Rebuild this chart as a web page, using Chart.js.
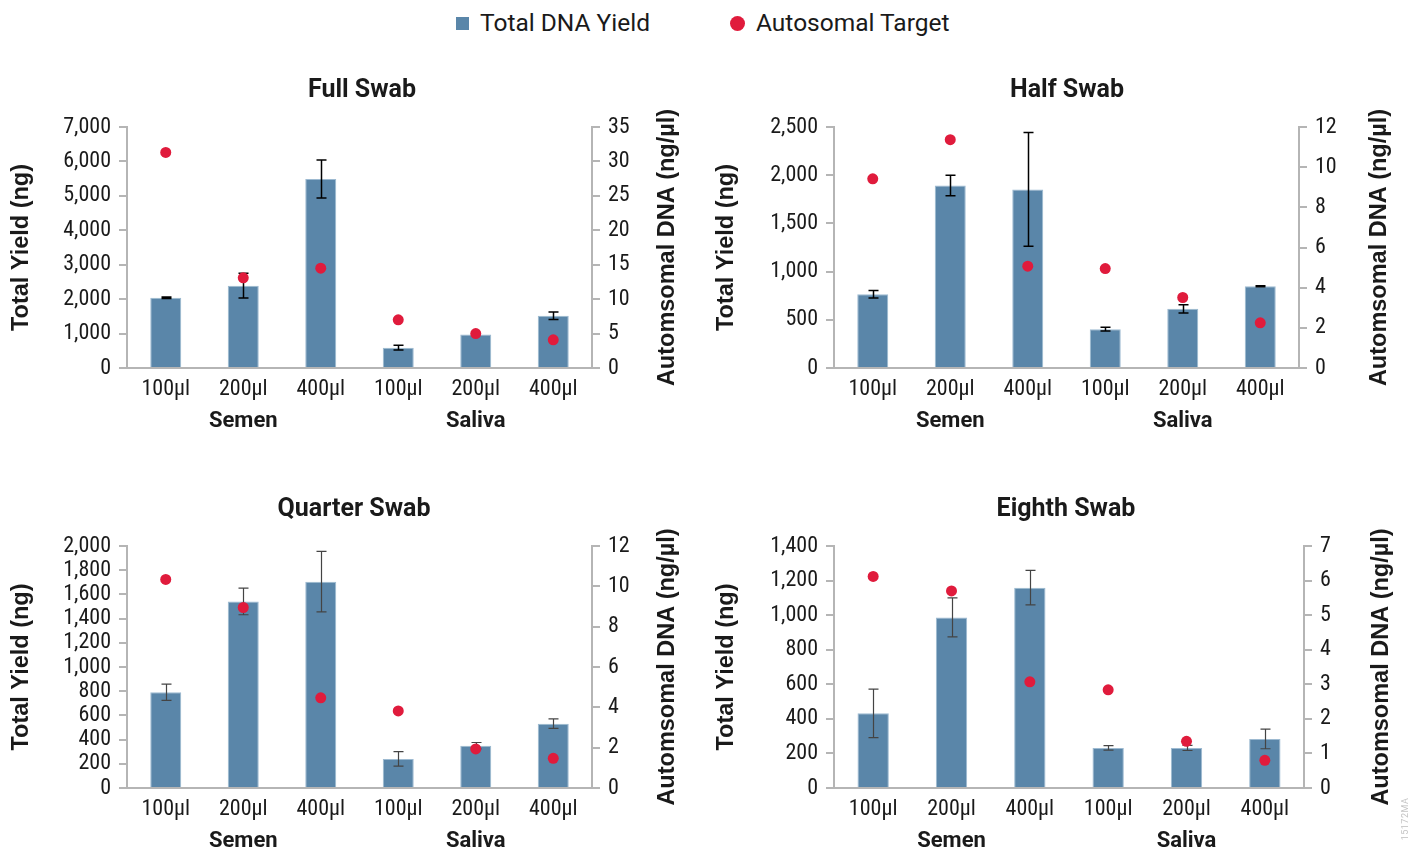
<!DOCTYPE html>
<html>
<head>
<meta charset="utf-8">
<script src="https://cdn.jsdelivr.net/npm/chart.js@4.4.1/dist/chart.umd.min.js"></script>
<style>
  html, body { margin: 0; padding: 0; background: #ffffff; }
  body { width: 1409px; height: 851px; position: relative; overflow: hidden; font-family: Roboto, "Noto Sans", sans-serif; color: #1a1a1a; }
  .panel { position: absolute; }
  .legend-swatch { position: absolute; width: 13px; height: 13px; background: #5a86a9; }
  .legend-dot { position: absolute; width: 15px; height: 15px; border-radius: 50%; background: #e01b3c; }
  .legend-text { position: absolute; top: 11px; font-size: 24.5px; line-height: 24px; white-space: nowrap; color: #1a1a1a; }
  .code { position: absolute; left: 1380px; top: 814px; width: 50px; text-align: center; font-size: 9px; color: #c4c4c4; transform: rotate(-90deg); letter-spacing: 0.5px; }
</style>
</head>
<body>

<div class="legend-swatch" style="left:456px; top:17px;"></div>
<div class="legend-text" style="left:480px;">Total DNA Yield</div>
<div class="legend-dot" style="left:730px; top:16px;"></div>
<div class="legend-text" style="left:756px;">Autosomal Target</div>

<div class="panel" style="left:0px; top:60px;"><canvas id="full" width="704" height="400"></canvas></div>
<div class="panel" style="left:704px; top:60px;"><canvas id="half" width="705" height="400"></canvas></div>
<div class="panel" style="left:0px; top:480px;"><canvas id="quarter" width="704" height="371"></canvas></div>
<div class="panel" style="left:704px; top:480px;"><canvas id="eighth" width="705" height="371"></canvas></div>

<div class="code">15172MA</div>

<script>
// Sample volumes along the x axis, grouped by sample type
const categories = ['100µl', '200µl', '400µl', '100µl', '200µl', '400µl'];
const sampleGroups = ['Semen', 'Saliva'];
const groupCenterIndex = [1, 4];

// Full swab
const fullYield = [2040, 2390, 5490, 590, 970, 1520];
const fullYieldErr = [20, 360, 550, 70, 0, 110];
const fullAutosomal = [31.3, 13.1, 14.5, 7.0, 5.0, 4.1];
const fullYieldTicks = [0, 1000, 2000, 3000, 4000, 5000, 6000, 7000];
const fullAutoTicks = [0, 5, 10, 15, 20, 25, 30, 35];

// Half swab
const halfYield = [765, 1893, 1852, 403, 614, 848];
const halfYieldErr = [40, 107, 590, 20, 43, 5];
const halfAutosomal = [9.42, 11.37, 5.07, 4.95, 3.51, 2.25];
const halfYieldTicks = [0, 500, 1000, 1500, 2000, 2500];
const halfAutoTicks = [0, 2, 4, 6, 8, 10, 12];

// Quarter swab
const quarterYield = [792, 1542, 1705, 240, 350, 532];
const quarterYieldErr = [67, 110, 250, 60, 26, 40];
const quarterAutosomal = [10.34, 8.95, 4.47, 3.82, 1.94, 1.47];
const quarterYieldTicks = [0, 200, 400, 600, 800, 1000, 1200, 1400, 1600, 1800, 2000];
const quarterAutoTicks = [0, 2, 4, 6, 8, 10, 12];

// Eighth swab
const eighthYield = [432, 987, 1159, 232, 232, 284];
const eighthYieldErr = [140, 113, 100, 13, 15, 57];
const eighthAutosomal = [6.12, 5.70, 3.07, 2.84, 1.35, 0.80];
const eighthYieldTicks = [0, 200, 400, 600, 800, 1000, 1200, 1400];
const eighthAutoTicks = [0, 1, 2, 3, 4, 5, 6, 7];

const BAR_FILL = '#5a86a9';
const BAR_EDGE = '#9dbad1';
const DOT_FILL = '#e01b3c';
const AXIS_GREY = '#b5b5b5';
const TEXT = '#1a1a1a';
const TICK_FONT = { family: "'Roboto Condensed', Roboto, sans-serif", size: 22 };

// Vertical error bars drawn right after the bar dataset, before the dots
const errorBars = {
  id: 'errorBars',
  afterDatasetDraw(chart, args, opts) {
    if (args.index !== 0) return;
    const ys = chart.scales.y;
    const values = chart.data.datasets[0].data;
    const ctx = chart.ctx;
    ctx.save();
    ctx.strokeStyle = opts.color;
    ctx.lineWidth = opts.width;
    args.meta.data.forEach((bar, i) => {
      const e = opts.errors[i];
      if (!e) return;
      const x = Math.round(bar.x) + 0.5;
      const yHi = ys.getPixelForValue(values[i] + e);
      const yLo = ys.getPixelForValue(values[i] - e);
      ctx.beginPath();
      ctx.moveTo(x, yHi); ctx.lineTo(x, yLo);
      ctx.moveTo(x - 5, yHi); ctx.lineTo(x + 5, yHi);
      ctx.moveTo(x - 5, yLo); ctx.lineTo(x + 5, yLo);
      ctx.stroke();
    });
    ctx.restore();
  }
};

// Panel title, rotated axis titles and the sample-type labels under the volumes
const panelText = {
  id: 'panelText',
  afterDraw(chart, args, opts) {
    const { ctx, chartArea: a } = chart;
    const xs = chart.scales.x;
    ctx.save();
    ctx.fillStyle = TEXT;
    ctx.textAlign = 'center';
    ctx.textBaseline = 'middle';

    ctx.font = 'bold 25px Roboto, sans-serif';
    ctx.fillText(opts.title, opts.titleX, a.top - 36);

    ctx.font = 'bold 22px Roboto, sans-serif';
    sampleGroups.forEach((g, i) => {
      ctx.fillText(g, xs.getPixelForValue(groupCenterIndex[i]), a.bottom + 53);
    });

    ctx.font = 'bold 23.5px "Liberation Sans", Arial, sans-serif';
    [[opts.leftTitle, opts.leftTitleX], [opts.rightTitle, opts.rightTitleX]].forEach(([t, x]) => {
      ctx.save();
      ctx.translate(x, (a.top + a.bottom) / 2);
      ctx.rotate(-Math.PI / 2);
      ctx.fillText(t, 0, 0);
      ctx.restore();
    });
    ctx.restore();
  }
};

function valueAxis(position, tickValues, width) {
  return {
    type: 'linear',
    position: position,
    min: tickValues[0],
    max: tickValues[tickValues.length - 1],
    afterBuildTicks: (scale) => { scale.ticks = tickValues.map(v => ({ value: v })); },
    afterFit: (scale) => { scale.width = width; },
    grid: { drawOnChartArea: false, drawTicks: true, tickLength: 8, color: AXIS_GREY, lineWidth: 2 },
    border: { display: true, color: AXIS_GREY, width: 2 },
    ticks: {
      font: TICK_FONT, color: TEXT, padding: 8, autoSkip: false,
      callback: (v) => Number(v).toLocaleString('en-US')
    }
  };
}

function makePanel(canvasId, p) {
  const canvas = document.getElementById(canvasId);
  const W = canvas.width, H = canvas.height;
  return new Chart(canvas, {
    type: 'bar',
    data: {
      labels: categories,
      datasets: [
        {
          type: 'bar',
          label: 'Total DNA Yield',
          data: p.yieldData,
          yAxisID: 'y',
          backgroundColor: BAR_FILL,
          borderColor: BAR_EDGE,
          borderWidth: 1,
          barPercentage: 0.4,
          categoryPercentage: 1.0,
          order: 2
        },
        {
          type: 'line',
          label: 'Autosomal Target',
          data: p.autoData,
          yAxisID: 'y1',
          showLine: false,
          pointRadius: 5.5,
          pointBackgroundColor: DOT_FILL,
          pointBorderWidth: 0,
          order: 1
        }
      ]
    },
    options: {
      responsive: false,
      animation: false,
      events: [],
      layout: { padding: { top: p.areaTop, left: 0, right: 0, bottom: 0 } },
      scales: {
        x: {
          type: 'category',
          offset: true,
          afterFit: (scale) => { scale.height = H - p.areaBottom; },
          grid: { display: false, drawTicks: false },
          border: { display: true, color: AXIS_GREY, width: 2 },
          ticks: { font: TICK_FONT, color: TEXT, padding: 8, maxRotation: 0, autoSkip: false }
        },
        y: valueAxis('left', p.yieldTicks, p.areaLeft),
        y1: valueAxis('right', p.autoTicks, W - p.areaRight)
      },
      plugins: {
        legend: { display: false },
        tooltip: { enabled: false },
        title: { display: false },
        errorBars: { errors: p.errors, color: p.errColor, width: p.errWidth },
        panelText: {
          title: p.title,
          titleX: p.titleX,
          leftTitle: 'Total Yield (ng)',
          rightTitle: 'Automsomal DNA (ng/µl)',
          leftTitleX: p.leftTitleX,
          rightTitleX: p.rightTitleX
        }
      }
    },
    plugins: [errorBars, panelText]
  });
}

makePanel('full', {
  title: 'Full Swab', titleX: 362, yieldData: fullYield, errors: fullYieldErr, autoData: fullAutosomal,
  yieldTicks: fullYieldTicks, autoTicks: fullAutoTicks,
  areaLeft: 127, areaRight: 592, areaTop: 67, areaBottom: 308,
  leftTitleX: 22, rightTitleX: 668, errColor: '#000000', errWidth: 1.5
});
makePanel('half', {
  title: 'Half Swab', titleX: 363, yieldData: halfYield, errors: halfYieldErr, autoData: halfAutosomal,
  yieldTicks: halfYieldTicks, autoTicks: halfAutoTicks,
  areaLeft: 130, areaRight: 595, areaTop: 67, areaBottom: 308,
  leftTitleX: 23, rightTitleX: 676, errColor: '#000000', errWidth: 1.5
});
makePanel('quarter', {
  title: 'Quarter Swab', titleX: 354, yieldData: quarterYield, errors: quarterYieldErr, autoData: quarterAutosomal,
  yieldTicks: quarterYieldTicks, autoTicks: quarterAutoTicks,
  areaLeft: 127, areaRight: 592, areaTop: 66, areaBottom: 308,
  leftTitleX: 22, rightTitleX: 668, errColor: '#444444', errWidth: 1.2
});
makePanel('eighth', {
  title: 'Eighth Swab', titleX: 362, yieldData: eighthYield, errors: eighthYieldErr, autoData: eighthAutosomal,
  yieldTicks: eighthYieldTicks, autoTicks: eighthAutoTicks,
  areaLeft: 130, areaRight: 600, areaTop: 66, areaBottom: 308,
  leftTitleX: 23, rightTitleX: 678, errColor: '#444444', errWidth: 1.2
});
</script>
</body>
</html>
